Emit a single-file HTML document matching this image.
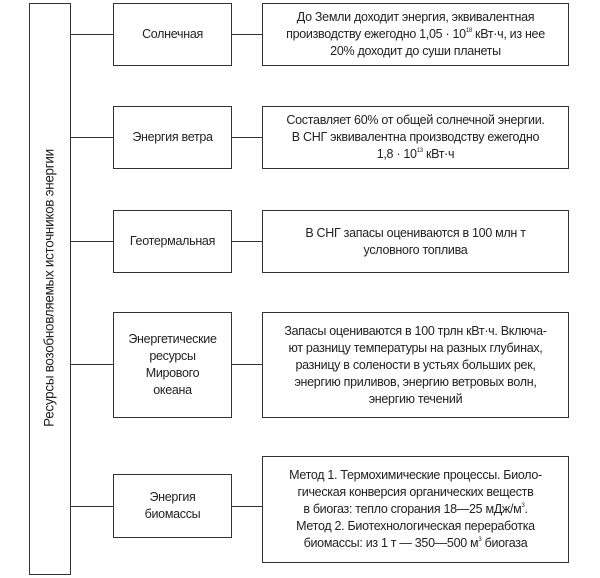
<!DOCTYPE html>
<html><head><meta charset="utf-8"><style>
body{margin:0;width:600px;height:578px;background:#fff;position:relative;overflow:hidden;font-family:"Liberation Sans","Noto Sans CJK SC",sans-serif;color:#222}
.b{position:absolute;border:1.3px solid #333;box-sizing:border-box;display:flex;align-items:center;justify-content:center;text-align:center;font-size:12.5px;line-height:17px;letter-spacing:-0.3px}
.b span{display:block;white-space:nowrap}
.h{position:absolute;height:0;border-top:1.3px solid #333}
sup{font-size:6px;vertical-align:6px;line-height:0}
.v{position:absolute;left:49px;top:288px;transform:translate(-50%,-50%) rotate(-90deg);white-space:nowrap;font-size:13.5px;letter-spacing:-0.3px}
</style></head><body>
<div class="b" style="left:29px;top:3px;width:42px;height:572px"></div>
<div class="v">Ресурсы возобновляемых источников энергии</div>

<div class="b" style="left:113px;top:3px;width:119px;height:63px"><span>Солнечная</span></div>
<div class="b" style="left:262px;top:3px;width:307px;height:63px"><span>До Земли доходит энергия, эквивалентная<br>производству ежегодно 1,05 · 10<sup>18</sup> кВт·ч, из нее<br>20% доходит до суши планеты</span></div>
<div class="h" style="left:71px;top:34px;width:42px"></div>
<div class="h" style="left:232px;top:34px;width:30px"></div>

<div class="b" style="left:113px;top:106px;width:119px;height:63px"><span>Энергия ветра</span></div>
<div class="b" style="left:262px;top:106px;width:307px;height:63px"><span>Составляет 60% от общей солнечной энергии.<br>В СНГ эквивалентна производству ежегодно<br>1,8 · 10<sup>13</sup> кВт·ч</span></div>
<div class="h" style="left:71px;top:137px;width:42px"></div>
<div class="h" style="left:232px;top:137px;width:30px"></div>

<div class="b" style="left:113px;top:210px;width:119px;height:63px"><span>Геотермальная</span></div>
<div class="b" style="left:262px;top:210px;width:307px;height:63px"><span>В СНГ запасы оцениваются в 100 млн т<br>условного топлива</span></div>
<div class="h" style="left:71px;top:241px;width:42px"></div>
<div class="h" style="left:232px;top:241px;width:30px"></div>

<div class="b" style="left:113px;top:312px;width:119px;height:106px"><span>Энергетические<br>ресурсы<br>Мирового<br>океана</span></div>
<div class="b" style="left:262px;top:312px;width:307px;height:106px"><span>Запасы оцениваются в 100 трлн кВт·ч. Включа-<br>ют разницу температуры на разных глубинах,<br>разницу в солености в устьях больших рек,<br>энергию приливов, энергию ветровых волн,<br>энергию течений</span></div>
<div class="h" style="left:71px;top:364px;width:42px"></div>
<div class="h" style="left:232px;top:364px;width:30px"></div>

<div class="b" style="left:113px;top:474px;width:119px;height:64px"><span>Энергия<br>биомассы</span></div>
<div class="b" style="left:262px;top:456px;width:307px;height:107px"><span>Метод 1. Термохимические процессы. Биоло-<br>гическая конверсия органических веществ<br>в биогаз: тепло сгорания 18—25 мДж/м<sup>3</sup>.<br>Метод 2. Биотехнологическая переработка<br>биомассы: из 1 т — 350—500 м<sup>3</sup> биогаза</span></div>
<div class="h" style="left:71px;top:506px;width:42px"></div>
<div class="h" style="left:232px;top:506px;width:30px"></div>
</body></html>
